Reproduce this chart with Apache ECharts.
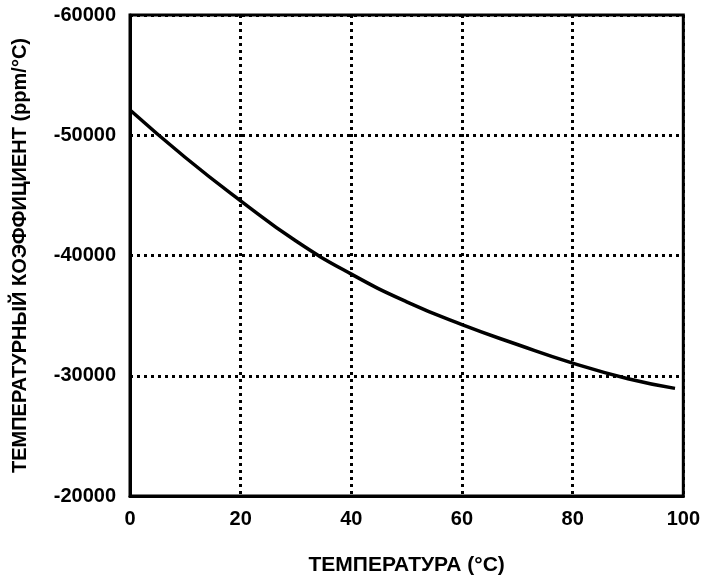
<!DOCTYPE html>
<html>
<head>
<meta charset="utf-8">
<script src="https://cdn.jsdelivr.net/npm/echarts@6/dist/echarts.min.js"></script>
<style>
  html, body { margin: 0; padding: 0; background: #fff; }
  #chart { width: 703px; height: 581px; }
</style>
</head>
<body>
<div id="chart"></div>
<script>
// температура, °C
var temps = [0, 10, 20, 30, 40, 50, 60, 70, 80, 90, 98.5];
// температурный коэффициент, ppm/°C
var coeffs = [-52100, -48150, -44550, -41200, -38450, -36150, -34250, -32600, -31050, -29750, -28950];
var xTicks = [0, 20, 40, 60, 80, 100];
var yTicks = [-60000, -50000, -40000, -30000, -20000];

var chart = echarts.init(document.getElementById('chart'));
var font = 'Liberation Sans, Arial, sans-serif';

var points = [];
for (var i = 0; i < temps.length; i++) {
  points.push([temps[i], coeffs[i]]);
}

var option = {
  animation: false,
  grid: {
    left: 130, right: 18, top: 15, bottom: 80,
    show: true,
    borderColor: '#000',
    borderWidth: 3
  },
  xAxis: {
    type: 'value',
    min: xTicks[0],
    max: xTicks[xTicks.length - 1],
    interval: 20,
    name: 'ТЕМПЕРАТУРА (°C)',
    nameLocation: 'middle',
    nameGap: 59,
    nameTextStyle: { color: '#000', fontSize: 21, fontWeight: 'bold', fontFamily: font },
    axisLine: { lineStyle: { color: '#000', width: 3 } },
    axisTick: { show: false },
    axisLabel: { color: '#000', fontSize: 20, fontWeight: 'bold', fontFamily: font, margin: 13 },
    splitLine: { show: true, lineStyle: { color: '#000', width: 3, type: [3, 4] } }
  },
  yAxis: {
    type: 'value',
    inverse: true,
    min: yTicks[0],
    max: yTicks[yTicks.length - 1],
    interval: 10000,
    name: 'ТЕМПЕРАТУРНЫЙ КОЭФФИЦИЕНТ (ppm/°C)',
    nameLocation: 'middle',
    nameGap: 100,
    nameTextStyle: { color: '#000', fontSize: 20, fontWeight: 'bold', fontFamily: font },
    axisLine: { lineStyle: { color: '#000', width: 3 } },
    axisTick: { show: false },
    axisLabel: {
      color: '#000', fontSize: 20, fontWeight: 'bold', fontFamily: font, margin: 14,
      formatter: function (v) { return String(v); }
    },
    splitLine: { show: true, lineStyle: { color: '#000', width: 3, type: [3, 4] } }
  },
  series: [{
    type: 'line',
    data: points,
    smooth: true,
    showSymbol: false,
    lineStyle: { color: '#000', width: 3.5 }
  }]
};
chart.setOption(option);
</script>
</body>
</html>
